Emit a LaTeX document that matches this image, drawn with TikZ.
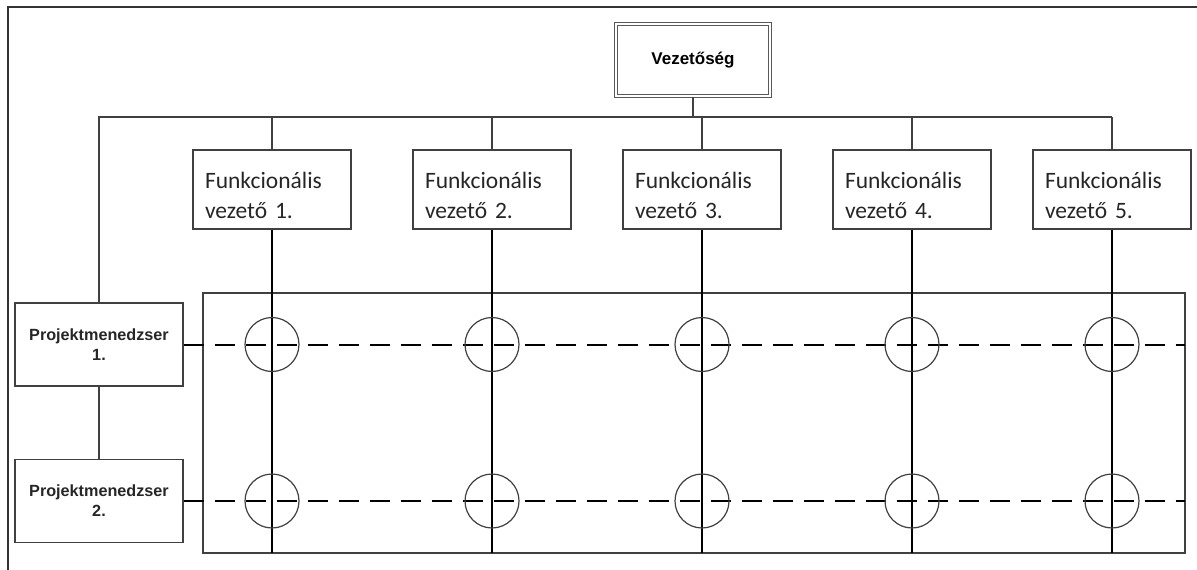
\documentclass[tikz,border=0pt]{standalone}
\usepackage{fontspec}
\setmainfont{Carlito}
\newfontfamily\arialfont{Liberation Sans}
\usetikzlibrary{positioning}

\begin{document}
\begin{tikzpicture}[x=1pt,y=-1pt,
    thinline/.style={draw=black!75,line width=1.3pt},
    topbox/.style={draw=black!65,line width=1.6pt,double=white,double distance=1.4pt,
      minimum width=154pt,minimum height=72pt,font=\arialfont\bfseries\fontsize{17}{20}\selectfont},
    funcbox/.style={thinline,rectangle,minimum width=158pt,minimum height=79pt,
      text width=134pt,inner xsep=12pt,align=left,text=black!85,font=\fontsize{23.5}{30}\selectfont},
    pmbox/.style={thinline,rectangle,minimum width=168pt,minimum height=83pt,
      align=center,text=black!85,font=\arialfont\bfseries\fontsize{16.2}{20}\selectfont},
    funcline/.style={draw=black,line width=2.2pt},
    projline/.style={draw=black,line width=2pt,dash pattern=on 20pt off 11pt},
    meet/.style={circle,draw=black!75,line width=1.2pt,minimum size=54pt,inner sep=0pt}]
  \useasboundingbox (0,0) rectangle (1197,570);
  % Frame
  \draw[draw=black!80,line width=1.8pt] (1197,7) -- (8,7) -- (8,570);
  % Boxes
  \node[topbox] (top) at (693,60) {Vezetőség};
  \foreach \i/\x in {1/272,2/492,3/702,4/912,5/1112}
    \node[funcbox] (f\i) at (\x,189.5) {\rule{0pt}{28pt}Funkcionális\\vezető \i.};
  \node[pmbox] (pm1) at (99,344.5) {Projektmenedzser\\1.};
  \node[pmbox] (pm2) at (99,501) {Projektmenedzser\\2.};
  % Tree lines
  \coordinate (bus) at (97,117);
  \draw[thinline] (pm1.north) -- (pm1.north |- bus) -- (f5.north |- bus);
  \draw[thinline] (top.south) -- (top.south |- bus);
  \foreach \i in {1,...,5}
    \draw[thinline] (f\i.north) -- (f\i.north |- bus);
  \draw[thinline] (pm1.south) -- (pm2.north);
  % Matrix
  \coordinate (gridNW) at (203,293);
  \coordinate (gridSE) at (1185,553);
  \draw[thinline] (gridNW) rectangle (gridSE);
  \foreach \i in {1,...,5}
    \draw[funcline] (f\i.south) -- (f\i.south |- gridSE);
  \foreach \j in {1,2}
    \draw[projline] (pm\j.east) -- (pm\j.east -| gridSE);
  % Circles
  \foreach \i in {1,...,5}
    \foreach \j in {1,2}
      \node[meet] (c\i\j) at (f\i.south |- pm\j.east) {};
\end{tikzpicture}
\end{document}
